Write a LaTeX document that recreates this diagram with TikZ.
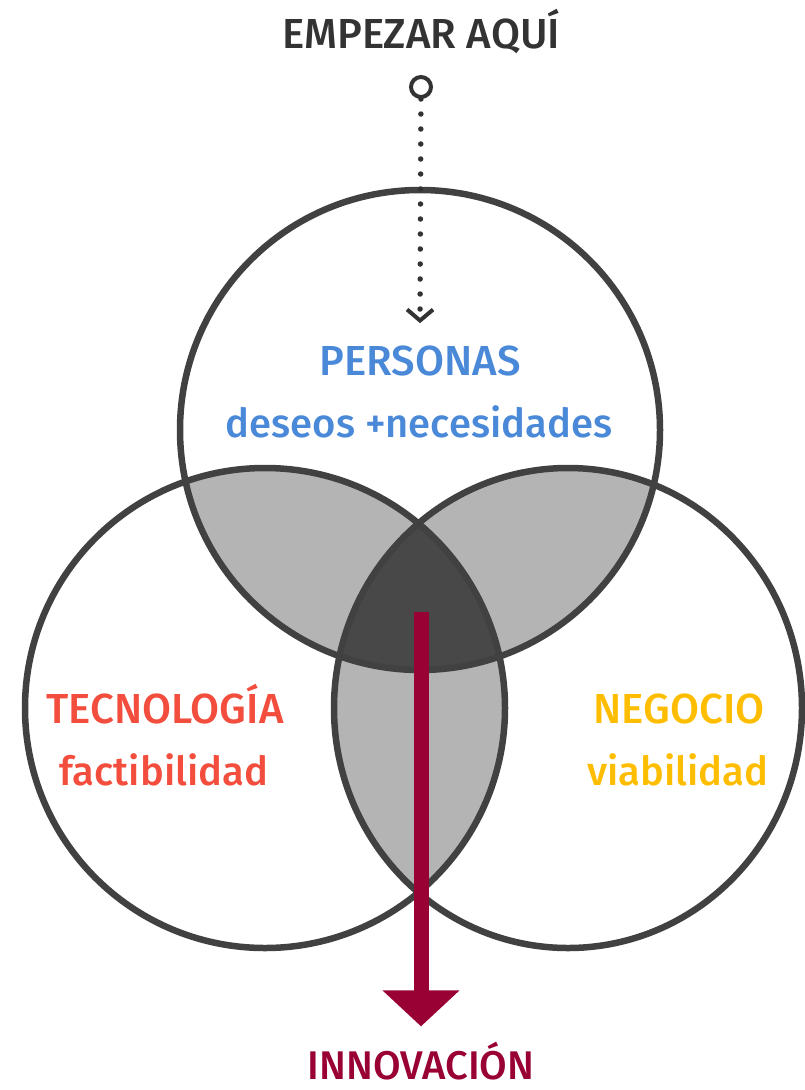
\documentclass[tikz,border=0pt]{standalone}
\usepackage{fontspec}
\setmainfont{Fira Sans Medium}
\usetikzlibrary{arrows.meta,shapes.geometric,positioning}

\definecolor{ringgray}{HTML}{414141}
\definecolor{lensgray}{HTML}{B4B4B4}
\definecolor{coregray}{HTML}{484848}
\definecolor{textgray}{HTML}{333333}
\definecolor{personasblue}{HTML}{4A88D8}
\definecolor{tecnored}{HTML}{F24D3D}
\definecolor{negocioyellow}{HTML}{FFBD00}
\definecolor{innovred}{HTML}{990033}

\begin{document}
\begin{tikzpicture}
  [
  x=1pt, y=-1pt,
  ring/.style={circle, draw=ringgray, line width=6.5pt, inner sep=0pt, minimum size=480pt},
  title/.style={font=\fontsize{42}{48}\selectfont, anchor=base, inner sep=0pt},
  sub/.style={font=\fontsize{40}{46}\selectfont, anchor=base, inner sep=0pt},
  startmark/.style={circle, draw=textgray, line width=4pt, inner sep=0pt, minimum size=20pt},
  dotpath/.style={draw=textgray, line width=5.5pt, line cap=round, dash pattern=on 0pt off 15pt,
    -{Straight Barb[length=11pt, width=26pt, line width=4pt]}},
  innovarrow/.style={draw=innovred, line width=15pt, -{Triangle[length=36pt, width=75pt]}}
  ]

\useasboundingbox (0,0) rectangle (804,1090);

\begin{scope}
  \clip (420,430) circle (240pt);
  \fill[lensgray] (265,708) circle (240pt);
  \fill[lensgray] (568,708) ellipse (234pt and 240pt);
\end{scope}
\begin{scope}
  \clip (265,708) circle (240pt);
  \fill[lensgray] (568,708) ellipse (234pt and 240pt);
  \clip (420,430) circle (240pt);
  \fill[coregray] (568,708) ellipse (234pt and 240pt);
\end{scope}

\node[ring] (personas) at (420,430) {};
\node[ring] (tecnologia) at (265,708) {};
\node[ring, ellipse, minimum width=468pt, minimum height=480pt] (negocio) at (568,708) {};

\node[title, text=textgray] (empezar) at (421,48) {EMPEZAR AQUÍ};
\node[startmark] (start) at (421,87) {};

\node[title, text=personasblue] (personas-t) at (420,375) {PERSONAS};
\node[sub, text=personasblue] (personas-s) at (419,437) {deseos +necesidades};
\node[title, text=tecnored] (tecno-t) at (165,723) {TECNOLOGÍA};
\node[sub, text=tecnored] (tecno-s) at (164,785) {factibilidad};
\node[title, text=negocioyellow] (negocio-t) at (679,723) {NEGOCIO};
\node[sub, text=negocioyellow] (negocio-s) at (678,785) {viabilidad};
\node[title, font=\fontsize{40}{46}\selectfont, text=innovred] (innov) at (421,1079) {INNOVACIÓN};

\coordinate (core) at (421,612);

\draw[dotpath] (start) -- ([yshift=22pt]personas-t.north);
\draw[innovarrow] (core) -- ([yshift=15pt]innov.north);
\end{tikzpicture}
\end{document}
